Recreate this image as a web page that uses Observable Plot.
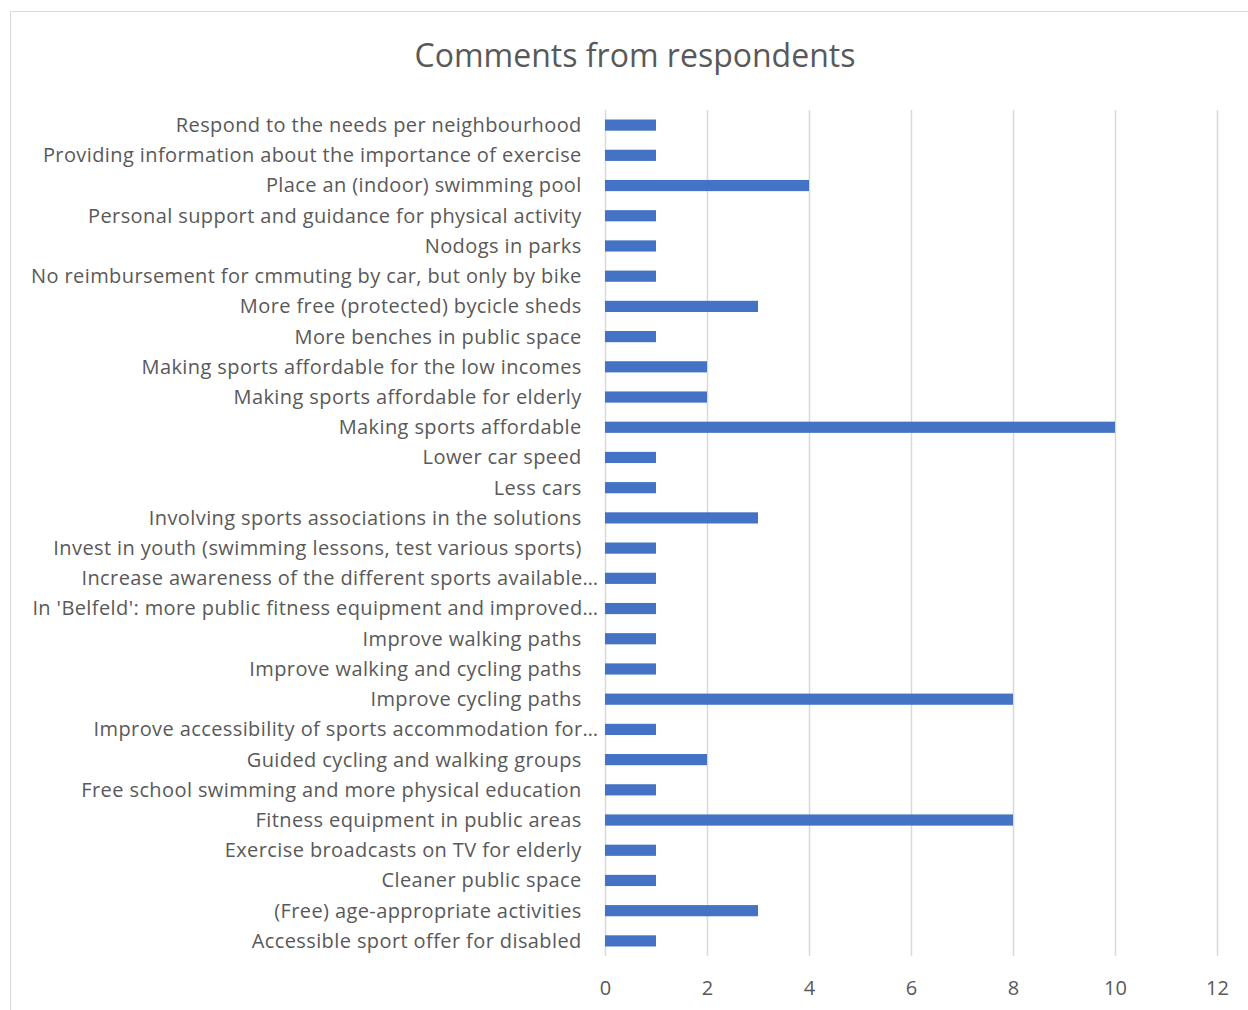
<!DOCTYPE html>
<html>
<head>
<meta charset="utf-8">
<script src="https://cdn.jsdelivr.net/npm/d3@7"></script>
<script src="https://cdn.jsdelivr.net/npm/@observablehq/plot@0.6"></script>
<style>
  html, body { margin: 0; padding: 0; background: #fff; }
  #wrap { position: relative; width: 1248px; height: 1010px; overflow: hidden; }
  #frame { position: absolute; left: 10px; top: 11px; width: 1260px; height: 1020px; border: 1px solid #d9d9d9; box-sizing: border-box; pointer-events: none; }
  #title { position: absolute; left: 0; top: 0; width: 1270px; height: 95px; text-align: center; line-height: 110px;
           font-family: "Open Sans", sans-serif; font-size: 32px; color: #595959; }
  #chart { position: absolute; left: 0; top: 95px; }
  #chart svg g[aria-label="y-axis tick label"] text { letter-spacing: 0.4px; }
</style>
</head>
<body>
<div id="wrap">
  <div id="frame"></div>
  <div id="title">Comments from respondents</div>
  <div id="chart"></div>
</div>
<script>
const categories = [
  "Respond to the needs per neighbourhood",
  "Providing information about the importance of exercise",
  "Place an (indoor) swimming pool",
  "Personal support and guidance for physical activity",
  "Nodogs in parks",
  "No reimbursement for cmmuting by car, but only by bike",
  "More free (protected) bycicle sheds",
  "More benches in public space",
  "Making sports affordable for the low incomes",
  "Making sports affordable for elderly",
  "Making sports affordable",
  "Lower car speed",
  "Less cars",
  "Involving sports associations in the solutions",
  "Invest in youth (swimming lessons, test various sports)",
  "Increase awareness of the different sports available…",
  "In 'Belfeld': more public fitness equipment and improved…",
  "Improve walking paths",
  "Improve walking and cycling paths",
  "Improve cycling paths",
  "Improve accessibility of sports accommodation for…",
  "Guided cycling and walking groups",
  "Free school swimming and more physical education",
  "Fitness equipment in public areas",
  "Exercise broadcasts on TV for elderly",
  "Cleaner public space",
  "(Free) age-appropriate activities",
  "Accessible sport offer for disabled"
];
const counts = [1, 1, 4, 1, 1, 1, 3, 1, 2, 2, 10, 1, 1, 3, 1, 1, 1, 1, 1, 8, 1, 2, 1, 8, 1, 1, 3, 1];
const xTicks = [0, 2, 4, 6, 8, 10, 12];

const data = categories.map((c, i) => ({category: c, count: counts[i]}));

const chart = Plot.plot({
  width: 1248,
  height: 915,
  marginTop: 15,
  marginBottom: 54,
  marginLeft: 605,
  marginRight: 31,
  style: { fontFamily: "'Open Sans', sans-serif", fontSize: "20px", color: "#595959", background: "transparent" },
  x: { domain: [0, 12] },
  y: { domain: categories, paddingInner: 0.63, paddingOuter: 0.315, round: false },
  marks: [
    Plot.gridX(xTicks, { stroke: "#d9d9d9", strokeOpacity: 1, strokeWidth: 1.5 }),
    Plot.barX(data, { y: "category", x: "count", fill: "#4472C4" }),
    Plot.axisX({ ticks: xTicks, tickSize: 0, tickPadding: 24, label: null, fill: "#595959" }),
    Plot.axisY({ tickSize: 0, tickPadding: 7, label: null, fill: "#595959",
      tickFormat: d => d.endsWith("…") ? d : d + "\u00a0\u00a0\u00a0" })
  ]
});
document.getElementById("chart").appendChild(chart);
</script>
</body>
</html>
